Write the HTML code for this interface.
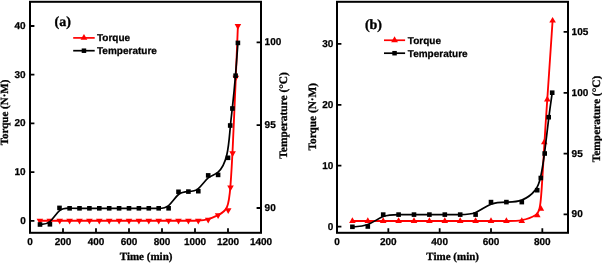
<!DOCTYPE html><html><head><meta charset="utf-8"><style>html,body{margin:0;padding:0;background:#fff;overflow:hidden}svg{display:block;will-change:transform}</style></head><body>
<svg width="602" height="263" viewBox="0 0 602 263" text-rendering="geometricPrecision">
<rect width="602" height="263" fill="#fff"/>
<path d="M39.90,220.70 C39.90,220.70 39.90,220.70 41.55,220.70 C43.20,220.70 46.50,220.70 49.80,220.70 C53.10,220.70 56.40,220.70 59.70,220.70 C63.00,220.70 66.30,220.70 69.60,220.70 C72.90,220.70 76.20,220.70 79.50,220.70 C82.80,220.70 86.10,220.70 89.40,220.70 C92.70,220.70 96.00,220.70 99.30,220.70 C102.60,220.70 105.90,220.70 109.20,220.70 C112.50,220.70 115.80,220.70 119.10,220.70 C122.40,220.70 125.70,220.70 129.00,220.70 C132.30,220.70 135.60,220.70 138.90,220.70 C142.20,220.70 145.50,220.70 148.80,220.70 C152.10,220.70 155.40,220.70 158.70,220.70 C162.00,220.70 165.30,220.70 168.60,220.70 C171.90,220.70 175.20,220.70 178.50,220.70 C181.80,220.70 185.10,220.70 188.40,220.70 C191.70,220.70 195.00,220.70 198.30,220.53 C201.60,220.37 204.90,220.03 208.20,219.12 C211.50,218.20 214.80,216.70 218.13,215.12 C221.47,213.53 224.83,211.87 226.90,207.25 C228.97,202.63 229.73,195.07 230.47,185.57 C231.20,176.07 231.90,164.63 232.78,146.32 C233.67,128.00 234.73,102.80 235.62,81.60 C236.50,60.40 237.20,43.20 237.55,34.60 C237.90,26.00 237.90,26.00 237.90,26.00" fill="none" stroke="#f00" stroke-width="1.85" stroke-linejoin="round"/>
<g fill="#f00"><path d="M36.60,218.80 L43.20,218.80 L39.90,224.40 Z"/><path d="M46.50,218.80 L53.10,218.80 L49.80,224.40 Z"/><path d="M56.40,218.80 L63.00,218.80 L59.70,224.40 Z"/><path d="M66.30,218.80 L72.90,218.80 L69.60,224.40 Z"/><path d="M76.20,218.80 L82.80,218.80 L79.50,224.40 Z"/><path d="M86.10,218.80 L92.70,218.80 L89.40,224.40 Z"/><path d="M96.00,218.80 L102.60,218.80 L99.30,224.40 Z"/><path d="M105.90,218.80 L112.50,218.80 L109.20,224.40 Z"/><path d="M115.80,218.80 L122.40,218.80 L119.10,224.40 Z"/><path d="M125.70,218.80 L132.30,218.80 L129.00,224.40 Z"/><path d="M135.60,218.80 L142.20,218.80 L138.90,224.40 Z"/><path d="M145.50,218.80 L152.10,218.80 L148.80,224.40 Z"/><path d="M155.40,218.80 L162.00,218.80 L158.70,224.40 Z"/><path d="M165.30,218.80 L171.90,218.80 L168.60,224.40 Z"/><path d="M175.20,218.80 L181.80,218.80 L178.50,224.40 Z"/><path d="M185.10,218.80 L191.70,218.80 L188.40,224.40 Z"/><path d="M195.00,218.80 L201.60,218.80 L198.30,224.40 Z"/><path d="M204.90,217.80 L211.50,217.80 L208.20,223.40 Z"/><path d="M214.80,213.30 L221.40,213.30 L218.10,218.90 Z"/><path d="M224.90,208.30 L231.50,208.30 L228.20,213.90 Z"/><path d="M227.20,185.60 L233.80,185.60 L230.50,191.20 Z"/><path d="M229.30,151.30 L235.90,151.30 L232.60,156.90 Z"/><path d="M232.50,75.70 L239.10,75.70 L235.80,81.30 Z"/><path d="M234.60,24.10 L241.20,24.10 L237.90,29.70 Z"/></g>
<path d="M40.00,224.50 C40.00,224.50 40.00,224.50 41.65,224.47 C43.30,224.43 46.60,224.37 49.85,221.60 C53.10,218.83 56.30,213.37 59.58,210.70 C62.87,208.03 66.23,208.17 69.57,208.23 C72.90,208.30 76.20,208.30 79.50,208.30 C82.80,208.30 86.10,208.30 89.40,208.30 C92.70,208.30 96.00,208.30 99.30,208.30 C102.60,208.30 105.90,208.30 109.20,208.30 C112.50,208.30 115.80,208.30 119.10,208.30 C122.40,208.30 125.70,208.30 129.00,208.30 C132.30,208.30 135.60,208.30 138.90,208.30 C142.20,208.30 145.50,208.30 148.80,208.30 C152.10,208.30 155.40,208.30 158.70,208.30 C162.00,208.30 165.30,208.30 168.60,205.55 C171.90,202.80 175.20,197.30 178.50,194.52 C181.80,191.73 185.10,191.67 188.40,191.57 C191.70,191.47 195.00,191.33 198.30,188.63 C201.60,185.93 204.90,180.67 208.20,177.95 C211.50,175.23 214.80,175.07 218.10,172.13 C221.40,169.20 224.70,163.50 226.72,155.27 C228.73,147.03 229.47,136.27 230.20,128.05 C230.93,119.83 231.67,114.17 232.57,105.87 C233.47,97.57 234.53,86.63 235.45,75.70 C236.37,64.77 237.13,53.83 237.52,48.37 C237.90,42.90 237.90,42.90 237.90,42.90" fill="none" stroke="#000" stroke-width="1.7" stroke-linejoin="round"/>
<g fill="#000"><rect x="37.70" y="222.20" width="4.60" height="4.60"/><rect x="47.60" y="222.00" width="4.60" height="4.60"/><rect x="57.20" y="205.60" width="4.60" height="4.60"/><rect x="67.30" y="206.00" width="4.60" height="4.60"/><rect x="77.20" y="206.00" width="4.60" height="4.60"/><rect x="87.10" y="206.00" width="4.60" height="4.60"/><rect x="97.00" y="206.00" width="4.60" height="4.60"/><rect x="106.90" y="206.00" width="4.60" height="4.60"/><rect x="116.80" y="206.00" width="4.60" height="4.60"/><rect x="126.70" y="206.00" width="4.60" height="4.60"/><rect x="136.60" y="206.00" width="4.60" height="4.60"/><rect x="146.50" y="206.00" width="4.60" height="4.60"/><rect x="156.40" y="206.00" width="4.60" height="4.60"/><rect x="166.30" y="206.00" width="4.60" height="4.60"/><rect x="176.20" y="189.50" width="4.60" height="4.60"/><rect x="186.10" y="189.30" width="4.60" height="4.60"/><rect x="196.00" y="188.90" width="4.60" height="4.60"/><rect x="205.90" y="173.10" width="4.60" height="4.60"/><rect x="215.80" y="172.60" width="4.60" height="4.60"/><rect x="225.70" y="155.50" width="4.60" height="4.60"/><rect x="227.90" y="123.20" width="4.60" height="4.60"/><rect x="230.10" y="106.20" width="4.60" height="4.60"/><rect x="233.30" y="73.40" width="4.60" height="4.60"/><rect x="235.60" y="40.60" width="4.60" height="4.60"/></g>
<rect x="30.00" y="1.80" width="231.00" height="231.00" fill="none" stroke="#000" stroke-width="2"/>
<path d="M30.00,232.80V228.20 M63.00,232.80V228.20 M96.00,232.80V228.20 M129.00,232.80V228.20 M162.00,232.80V228.20 M195.00,232.80V228.20 M228.00,232.80V228.20 M261.00,232.80V228.20 M30.00,220.80H34.40 M30.00,172.10H34.40 M30.00,123.40H34.40 M30.00,74.70H34.40 M30.00,26.00H34.40 M261.00,208.00H256.60 M261.00,125.20H256.60 M261.00,42.40H256.60" stroke="#000" stroke-width="1.8" fill="none"/>
<g font-family='"Liberation Sans", sans-serif' font-weight="bold" font-size="10" fill="#000" stroke="#000" stroke-width="0.25">
<text x="30.00" y="244.9" font-size="10" text-anchor="middle">0</text>
<text x="63.00" y="244.9" font-size="10" text-anchor="middle">200</text>
<text x="96.00" y="244.9" font-size="10" text-anchor="middle">400</text>
<text x="129.00" y="244.9" font-size="10" text-anchor="middle">600</text>
<text x="162.00" y="244.9" font-size="10" text-anchor="middle">800</text>
<text x="195.00" y="244.9" font-size="10" text-anchor="middle">1000</text>
<text x="228.00" y="244.9" font-size="10" text-anchor="middle">1200</text>
<text x="261.00" y="244.9" font-size="10" text-anchor="middle">1400</text>
<text x="25.70" y="223.70" text-anchor="end">0</text>
<text x="25.70" y="175.00" text-anchor="end">10</text>
<text x="25.70" y="126.30" text-anchor="end">20</text>
<text x="25.70" y="77.60" text-anchor="end">30</text>
<text x="25.70" y="28.90" text-anchor="end">40</text>
<text x="264.60" y="210.90">90</text>
<text x="264.60" y="128.10">95</text>
<text x="264.60" y="45.30">100</text>
</g>
<path d="M73.20,37.90H94.70" stroke="#f00" stroke-width="1.7"/>
<path d="M73.20,50.70H94.70" stroke="#000" stroke-width="1.7"/>
<g fill="#f00"><path d="M80.55,39.80 L87.35,39.80 L83.95,34.00 Z"/></g>
<g fill="#000"><rect x="81.70" y="48.45" width="4.50" height="4.50"/></g>
<g font-family='"Liberation Sans", sans-serif' font-weight="bold" font-size="10" fill="#000" stroke="#000" stroke-width="0.25"><text x="97.00" y="41.30">Torque</text><text x="97.00" y="54.40">Temperature</text></g>
<g font-family='"Liberation Serif", serif' font-weight="bold" fill="#000" stroke="#000" stroke-width="0.3">
<text x="146.10" y="260.20" font-size="11.00" text-anchor="middle">Time (min)</text>
<text transform="translate(8.00,112.50) rotate(-90)" font-size="11.00" text-anchor="middle">Torque (N&#183;M)</text>
<text transform="translate(287.00,115.45) rotate(-90)" font-size="11.40" text-anchor="middle">Temperature (&#176;C)</text>
</g>
<text x="62.65" y="25.90" text-anchor="middle" font-family='"Liberation Serif", serif' font-weight="bold" font-size="14" stroke="#000" stroke-width="0.35">(a)</text>
<path d="M352.40,221.00 C352.40,221.00 352.40,221.00 354.97,221.00 C357.53,221.00 362.67,221.00 367.80,221.00 C372.93,221.00 378.07,221.00 383.20,221.00 C388.33,221.00 393.47,221.00 398.60,221.00 C403.73,221.00 408.87,221.00 414.00,221.00 C419.13,221.00 424.27,221.00 429.40,221.00 C434.53,221.00 439.67,221.00 444.80,221.00 C449.93,221.00 455.07,221.00 460.20,221.00 C465.33,221.00 470.47,221.00 475.60,221.00 C480.73,221.00 485.87,221.00 491.00,221.00 C496.13,221.00 501.27,221.00 506.40,221.00 C511.53,221.00 516.67,221.00 521.82,220.05 C526.97,219.10 532.13,217.20 535.32,215.17 C538.50,213.13 539.70,210.97 540.87,198.80 C542.03,186.63 543.17,164.47 544.23,146.25 C545.30,128.03 546.30,113.77 547.68,93.48 C549.07,73.20 550.83,46.90 551.72,33.75 C552.60,20.60 552.60,20.60 552.60,20.60" fill="none" stroke="#f00" stroke-width="1.85" stroke-linejoin="round"/>
<g fill="#f00"><path d="M349.10,222.90 L355.70,222.90 L352.40,217.30 Z"/><path d="M364.50,222.90 L371.10,222.90 L367.80,217.30 Z"/><path d="M379.90,222.90 L386.50,222.90 L383.20,217.30 Z"/><path d="M395.30,222.90 L401.90,222.90 L398.60,217.30 Z"/><path d="M410.70,222.90 L417.30,222.90 L414.00,217.30 Z"/><path d="M426.10,222.90 L432.70,222.90 L429.40,217.30 Z"/><path d="M441.50,222.90 L448.10,222.90 L444.80,217.30 Z"/><path d="M456.90,222.90 L463.50,222.90 L460.20,217.30 Z"/><path d="M472.30,222.90 L478.90,222.90 L475.60,217.30 Z"/><path d="M487.70,222.90 L494.30,222.90 L491.00,217.30 Z"/><path d="M503.10,222.90 L509.70,222.90 L506.40,217.30 Z"/><path d="M518.50,222.90 L525.10,222.90 L521.80,217.30 Z"/><path d="M534.00,217.20 L540.60,217.20 L537.30,211.60 Z"/><path d="M537.60,210.70 L544.20,210.70 L540.90,205.10 Z"/><path d="M541.00,144.20 L547.60,144.20 L544.30,138.60 Z"/><path d="M544.00,101.40 L550.60,101.40 L547.30,95.80 Z"/><path d="M549.30,22.50 L555.90,22.50 L552.60,16.90 Z"/></g>
<path d="M352.40,226.80 C352.40,226.80 352.40,226.80 354.97,226.75 C357.53,226.70 362.67,226.60 367.80,224.57 C372.93,222.53 378.07,218.57 383.20,216.58 C388.33,214.60 393.47,214.60 398.60,214.60 C403.73,214.60 408.87,214.60 414.00,214.60 C419.13,214.60 424.27,214.60 429.40,214.60 C434.53,214.60 439.67,214.60 444.80,214.60 C449.93,214.60 455.07,214.60 460.20,214.60 C465.33,214.60 470.47,214.60 475.60,212.52 C480.73,210.43 485.87,206.27 491.00,204.18 C496.13,202.10 501.27,202.10 506.40,202.10 C511.53,202.10 516.67,202.10 521.80,200.12 C526.93,198.13 532.07,194.17 535.23,190.15 C538.40,186.13 539.60,182.07 540.85,175.95 C542.10,169.83 543.40,161.67 544.72,151.53 C546.03,141.40 547.37,129.30 548.62,119.17 C549.87,109.03 551.03,100.87 551.62,96.78 C552.20,92.70 552.20,92.70 552.20,92.70" fill="none" stroke="#000" stroke-width="1.7" stroke-linejoin="round"/>
<g fill="#000"><rect x="350.10" y="224.50" width="4.60" height="4.60"/><rect x="365.50" y="224.20" width="4.60" height="4.60"/><rect x="380.90" y="212.30" width="4.60" height="4.60"/><rect x="396.30" y="212.30" width="4.60" height="4.60"/><rect x="411.70" y="212.30" width="4.60" height="4.60"/><rect x="427.10" y="212.30" width="4.60" height="4.60"/><rect x="442.50" y="212.30" width="4.60" height="4.60"/><rect x="457.90" y="212.30" width="4.60" height="4.60"/><rect x="473.30" y="212.30" width="4.60" height="4.60"/><rect x="488.70" y="199.80" width="4.60" height="4.60"/><rect x="504.10" y="199.80" width="4.60" height="4.60"/><rect x="519.50" y="199.80" width="4.60" height="4.60"/><rect x="534.90" y="187.90" width="4.60" height="4.60"/><rect x="538.50" y="175.70" width="4.60" height="4.60"/><rect x="542.40" y="151.20" width="4.60" height="4.60"/><rect x="546.40" y="114.90" width="4.60" height="4.60"/><rect x="549.90" y="90.40" width="4.60" height="4.60"/></g>
<rect x="337.00" y="1.80" width="231.00" height="231.00" fill="none" stroke="#000" stroke-width="2"/>
<path d="M337.00,232.80V228.20 M388.33,232.80V228.20 M439.67,232.80V228.20 M491.00,232.80V228.20 M542.33,232.80V228.20 M337.00,226.60H341.40 M337.00,165.70H341.40 M337.00,104.80H341.40 M337.00,43.90H341.40 M568.00,214.40H563.60 M568.00,153.60H563.60 M568.00,92.80H563.60 M568.00,31.90H563.60" stroke="#000" stroke-width="1.8" fill="none"/>
<g font-family='"Liberation Sans", sans-serif' font-weight="bold" font-size="10" fill="#000" stroke="#000" stroke-width="0.25">
<text x="337.00" y="244.9" font-size="10" text-anchor="middle">0</text>
<text x="388.33" y="244.9" font-size="10" text-anchor="middle">200</text>
<text x="439.67" y="244.9" font-size="10" text-anchor="middle">400</text>
<text x="491.00" y="244.9" font-size="10" text-anchor="middle">600</text>
<text x="542.33" y="244.9" font-size="10" text-anchor="middle">800</text>
<text x="333.40" y="229.50" text-anchor="end">0</text>
<text x="333.40" y="168.60" text-anchor="end">10</text>
<text x="333.40" y="107.70" text-anchor="end">20</text>
<text x="333.40" y="46.80" text-anchor="end">30</text>
<text x="571.60" y="217.30">90</text>
<text x="571.60" y="156.50">95</text>
<text x="571.60" y="95.70">100</text>
<text x="571.60" y="34.80">105</text>
</g>
<path d="M384.00,40.25H405.10" stroke="#f00" stroke-width="1.7"/>
<path d="M384.00,53.20H405.10" stroke="#000" stroke-width="1.7"/>
<g fill="#f00"><path d="M391.15,42.15 L397.95,42.15 L394.55,36.35 Z"/></g>
<g fill="#000"><rect x="392.30" y="50.95" width="4.50" height="4.50"/></g>
<g font-family='"Liberation Sans", sans-serif' font-weight="bold" font-size="10" fill="#000" stroke="#000" stroke-width="0.25"><text x="407.80" y="44.00">Torque</text><text x="407.80" y="56.70">Temperature</text></g>
<g font-family='"Liberation Serif", serif' font-weight="bold" fill="#000" stroke="#000" stroke-width="0.3">
<text x="452.65" y="259.80" font-size="11.00" text-anchor="middle">Time (min)</text>
<text transform="translate(316.20,116.75) rotate(-90)" font-size="11.30" text-anchor="middle">Torque (N&#183;M)</text>
<text transform="translate(599.60,119.00) rotate(-90)" font-size="11.40" text-anchor="middle">Temperature (&#176;C)</text>
</g>
<text x="373.45" y="29.10" text-anchor="middle" font-family='"Liberation Serif", serif' font-weight="bold" font-size="14" stroke="#000" stroke-width="0.35">(b)</text>
</svg></body></html>
